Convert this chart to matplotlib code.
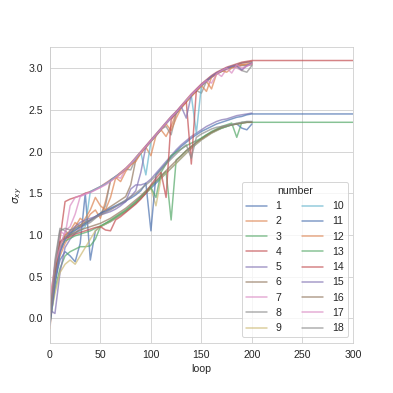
import matplotlib
matplotlib.use("Agg")
import matplotlib.pyplot as plt
import seaborn as sns

# loop values shared by all runs (last entry only used by the runs that go on to 300)
loops = list(range(0, 205, 5)) + [300]

numbers = list(range(1, 19))

s1 = [0.15, 0.45, 0.70, 0.80, 0.75, 0.68, 0.90, 1.50, 0.70, 1.05, 1.10, 1.13, 1.16, 1.20, 1.24, 1.28, 1.33, 1.38, 1.44, 1.50, 1.56,
      1.62, 1.68, 1.74, 1.80, 1.86, 1.92, 1.98, 2.04, 2.09, 2.14, 2.18, 2.22, 2.25, 2.28, 2.30, 2.32, 2.33, 2.28, 2.26, 2.33]
s2 = [-0.12, 0.50, 0.75, 0.90, 1.00, 1.10, 1.20, 1.15, 1.25, 1.30, 1.20, 1.40, 1.65, 1.69, 1.64, 1.76, 1.84, 1.91, 1.98, 2.05, 1.95,
      2.19, 2.26, 2.18, 2.30, 2.46, 2.53, 2.60, 2.66, 2.72, 2.78, 2.84, 2.75, 2.93, 2.96, 2.99, 3.01, 3.03, 3.04, 3.04, 3.05]
s3 = [-0.05, 0.35, 0.60, 0.75, 0.80, 0.83, 0.86, 0.86, 0.87, 0.95, 1.10, 1.14, 1.18, 1.22, 1.26, 1.30, 1.35, 1.40, 1.46, 1.52, 1.58,
      1.64, 1.70, 1.76, 1.18, 1.90, 1.95, 2.01, 2.06, 2.11, 2.16, 2.20, 2.24, 2.27, 2.30, 2.32, 2.34, 2.17, 2.35, 2.35, 2.35]
s4 = [-0.05, 0.62, 0.95, 1.40, 1.43, 1.45, 1.47, 1.50, 1.52, 1.55, 1.58, 1.62, 1.66, 1.70, 1.75, 1.80, 1.86, 1.93, 2.00, 2.07, 2.14,
      2.21, 2.28, 2.35, 2.42, 2.48, 2.55, 2.62, 2.69, 2.75, 2.81, 2.86, 2.91, 2.95, 2.98, 3.01, 3.03, 3.05, 3.07, 3.08, 3.09, 3.09]
s5 = [0.10, 0.06, 0.55, 0.85, 0.95, 1.02, 1.08, 1.13, 1.17, 1.21, 1.25, 1.28, 1.31, 1.34, 1.37, 1.40, 1.55, 1.60, 1.60, 1.62, 1.67,
      1.74, 1.81, 1.88, 1.95, 2.02, 2.08, 2.13, 2.18, 2.22, 2.26, 2.30, 2.33, 2.36, 2.38, 2.39, 2.41, 2.43, 2.44, 2.45, 2.46]
s6 = [0.05, 0.55, 0.90, 1.00, 1.03, 1.08, 1.12, 1.15, 1.18, 1.22, 1.26, 1.30, 1.34, 1.38, 1.42, 1.46, 1.60, 1.90, 1.98, 2.05, 2.12,
      2.19, 2.26, 2.33, 2.40, 2.46, 2.53, 2.60, 2.67, 2.73, 2.79, 2.84, 2.89, 2.93, 2.96, 2.99, 3.01, 3.02, 3.03, 3.03, 3.04]
s7 = [0.10, 0.55, 1.05, 1.00, 1.35, 1.45, 1.47, 1.49, 1.51, 1.54, 1.57, 1.61, 1.65, 1.70, 1.68, 1.79, 1.85, 1.92, 1.99, 2.06, 2.13,
      2.20, 2.27, 2.34, 2.41, 2.47, 2.54, 2.61, 2.68, 2.74, 2.80, 2.85, 2.90, 2.94, 2.90, 2.99, 3.02, 3.00, 2.97, 3.03, 3.06]
s8 = [0.00, 0.70, 1.08, 1.05, 1.00, 1.05, 1.10, 1.12, 1.15, 1.20, 1.25, 1.35, 1.66, 1.70, 1.74, 1.79, 1.78, 1.92, 1.99, 2.06, 2.13,
      2.20, 2.27, 2.30, 2.20, 2.45, 2.53, 2.60, 2.67, 2.73, 2.70, 2.84, 2.89, 2.93, 2.96, 2.99, 3.01, 3.02, 2.97, 2.95, 3.03]
s9 = [0.00, 0.30, 0.55, 0.65, 0.70, 0.65, 0.75, 0.85, 0.95, 1.05, 1.10, 1.13, 1.16, 1.20, 1.24, 1.28, 1.33, 1.38, 1.44, 1.50, 1.56,
      1.35, 1.68, 1.74, 1.80, 1.86, 1.92, 1.98, 2.04, 2.09, 2.14, 2.18, 2.22, 2.25, 2.28, 2.30, 2.32, 2.33, 2.34, 2.35, 2.35]
s10 = [0.05, 0.45, 0.80, 0.95, 1.00, 1.02, 1.05, 1.10, 1.52, 1.55, 1.58, 1.61, 1.65, 1.70, 1.74, 1.79, 1.85, 1.92, 1.99, 1.72, 2.12,
       2.19, 2.27, 2.34, 2.41, 2.47, 2.54, 2.61, 2.67, 2.22, 2.79, 2.85, 2.90, 2.94, 2.97, 3.00, 3.02, 3.04, 3.06, 3.07, 3.07]
s11 = [-0.08, 0.40, 0.80, 0.95, 1.02, 1.06, 1.10, 1.14, 1.18, 1.22, 1.26, 1.29, 1.32, 1.35, 1.38, 1.41, 1.44, 1.48, 1.53, 1.62, 1.05,
       1.72, 1.79, 1.86, 1.93, 2.00, 2.06, 2.11, 2.16, 2.20, 2.24, 2.27, 2.30, 2.33, 2.35, 2.37, 2.39, 2.41, 2.42, 2.44, 2.45, 2.45]
s12 = [0.25, 0.60, 0.85, 1.00, 1.05, 1.15, 1.10, 1.20, 1.30, 1.45, 1.35, 1.30, 1.45, 1.68, 1.73, 1.78, 1.84, 1.88, 1.98, 2.05, 2.12,
       2.19, 2.26, 2.33, 2.25, 2.40, 2.52, 2.59, 2.66, 2.73, 2.79, 2.72, 2.89, 2.93, 2.97, 2.95, 3.00, 3.02, 3.04, 3.05, 3.06]
s13 = [0.05, 0.50, 0.85, 0.93, 0.96, 0.99, 1.01, 1.03, 1.05, 1.08, 1.11, 1.14, 1.17, 1.21, 1.25, 1.29, 1.34, 1.39, 1.45, 1.51, 1.57,
       1.45, 1.75, 1.85, 1.95, 1.99, 2.03, 2.07, 2.10, 2.13, 2.16, 2.20, 2.23, 2.26, 2.28, 2.30, 2.32, 2.33, 2.34, 2.35, 2.35, 2.35]
s14 = [0.00, 0.55, 0.92, 0.96, 0.98, 1.01, 1.03, 1.05, 1.07, 1.09, 1.10, 1.06, 1.05, 1.18, 1.22, 1.27, 1.32, 1.37, 1.43, 1.50, 1.60,
       1.68, 1.75, 1.45, 2.38, 2.47, 2.54, 2.60, 1.85, 2.74, 2.80, 2.85, 2.90, 2.94, 2.97, 3.00, 3.02, 3.04, 3.06, 3.07, 3.08]
s15 = [0.00, 0.45, 0.80, 0.95, 1.05, 1.10, 1.15, 1.18, 1.20, 1.22, 1.24, 1.26, 1.28, 1.31, 1.35, 1.40, 1.46, 1.53, 1.75, 2.06, 2.13,
       2.20, 2.27, 2.34, 2.41, 2.47, 2.54, 2.40, 2.68, 2.74, 2.80, 2.85, 2.90, 2.94, 2.97, 3.00, 3.02, 3.03, 2.98, 3.03, 3.06]
s16 = [0.08, 0.60, 0.90, 0.98, 1.00, 1.03, 1.06, 1.08, 1.10, 1.12, 1.14, 1.17, 1.20, 1.24, 1.28, 1.32, 1.37, 1.42, 1.47, 1.53, 1.59,
       1.65, 1.71, 1.77, 1.83, 1.89, 1.95, 2.01, 2.06, 2.11, 2.15, 2.19, 2.23, 2.26, 2.29, 2.31, 2.32, 2.33, 2.34, 2.35, 2.35]
s17 = [0.20, 0.65, 0.85, 1.05, 1.10, 1.25, 1.46, 1.49, 1.51, 1.54, 1.57, 1.60, 1.64, 1.69, 1.74, 1.79, 1.85, 1.92, 1.99, 2.06, 2.13,
       2.20, 2.27, 2.34, 2.41, 2.47, 2.54, 2.61, 2.68, 2.74, 2.80, 2.85, 2.82, 2.93, 2.97, 3.00, 2.94, 3.04, 3.00, 3.02, 3.05]
s18 = [-0.02, 0.65, 1.05, 1.08, 1.06, 1.08, 1.12, 1.15, 1.18, 1.21, 1.24, 1.27, 1.30, 1.34, 1.38, 1.42, 1.46, 1.50, 1.55, 1.60, 1.65,
       1.71, 1.78, 1.85, 1.91, 1.97, 2.03, 2.08, 1.92, 2.17, 2.21, 2.24, 2.27, 2.29, 2.30, 2.31, 2.32, 2.34, 2.35, 2.36, 2.36]

series = [s1, s2, s3, s4, s5, s6, s7, s8, s9, s10, s11, s12, s13, s14, s15, s16, s17, s18]

sns.set_style("whitegrid")
plt.rcParams['font.family'] = ['Liberation Sans', 'DejaVu Sans']
plt.rcParams['font.size'] = 10.5
colors = sns.color_palette("deep", 10)

fig = plt.figure(figsize=(393 / 72, 393 / 72), dpi=72)
ax = fig.add_axes([0.127, 0.128, 0.771, 0.752])

for i, (n, y) in enumerate(zip(numbers, series)):
    ax.plot(loops[:len(y)], y, color=colors[i % 10], alpha=0.7, lw=1.5, label=str(n))

ax.set_xlim(0, 300)
ax.set_ylim(-0.29, 3.25)
ax.set_xticks(range(0, 301, 50))
ax.set_yticks([0.0, 0.5, 1.0, 1.5, 2.0, 2.5, 3.0])
ax.tick_params(labelsize=10.5)
ax.set_xlabel("loop")
ax.set_ylabel(r"$\sigma_{xy}$")
ax.legend(title="number", ncol=2, loc="lower right", fontsize=10.5, title_fontsize=10.5)

fig.savefig("out.png", dpi=72)
